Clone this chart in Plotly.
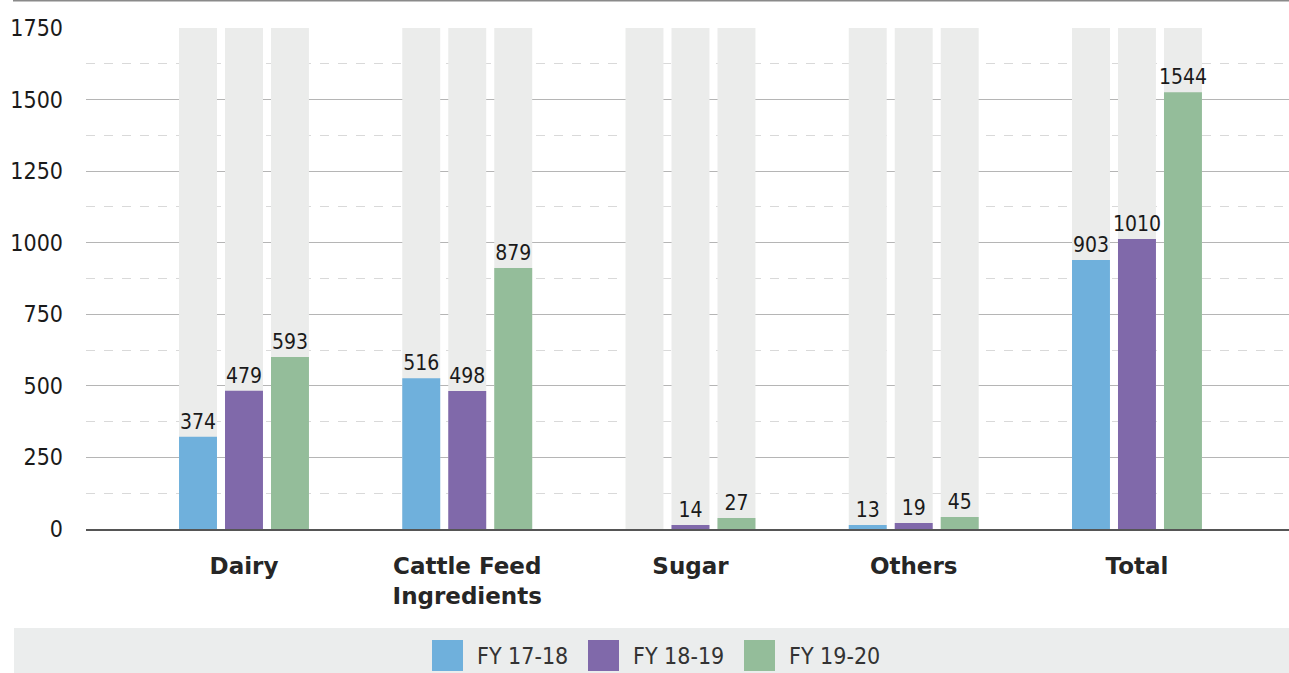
import plotly.graph_objects as go

categories = ["Dairy", "Cattle Feed<br>Ingredients", "Sugar", "Others", "Total"]
series_names = ["FY 17-18", "FY 18-19", "FY 19-20"]
# bar heights as drawn in the picture
values_fy1718 = [322, 527, 0, 14, 940]
values_fy1819 = [483, 482, 14, 21, 1013]
values_fy1920 = [601, 912, 38, 42, 1526]
# data labels as printed in the picture
labels_fy1718 = ["374", "516", "", "13", "903"]
labels_fy1819 = ["479", "498", "14", "19", "1010"]
labels_fy1920 = ["593", "879", "27", "45", "1544"]
background_max = [1750, 1750, 1750, 1750, 1750]
y_ticks = [0, 250, 500, 750, 1000, 1250, 1500, 1750]

colors = ["#6fb0dc", "#8069aa", "#94bd9a"]
bg_color = "#ebeceb"
FONT = "DejaVu Sans Condensed, DejaVu Sans, sans-serif"
BOLD_FONT = "DejaVu Sans, sans-serif"

series_values = [values_fy1718, values_fy1819, values_fy1920]
series_labels = [labels_fy1718, labels_fy1819, labels_fy1920]

W, H = 1289, 673
ML, MR, MT, MB = 86, 0, 28, 144
PW, PH = W - ML - MR, H - MT - MB

bar_w = 0.170
step = 0.206

fig = go.Figure()
for i in range(3):
    fig.add_trace(go.Bar(
        x=categories, y=background_max, width=bar_w,
        offset=(i - 1) * step - bar_w / 2,
        marker=dict(color=bg_color, line=dict(width=0)),
        showlegend=False, hoverinfo="skip"))
for i in range(3):
    fig.add_trace(go.Bar(
        x=categories, y=series_values[i], width=bar_w,
        offset=(i - 1) * step - bar_w / 2,
        name=series_names[i],
        marker=dict(color=colors[i], line=dict(width=0)),
        text=series_labels[i], textposition="outside", constraintext="none",
        cliponaxis=False,
        textfont=dict(family=FONT, size=21, color="#1a1a1a"),
        showlegend=False, hoverinfo="skip"))


def px_x(p):
    return (p - ML) / PW


def px_y(p):
    return (H - MB - p) / PH


shapes = []
annotations = []
# top rule
shapes.append(dict(type="line", xref="paper", yref="paper",
                   x0=px_x(13), x1=1, y0=px_y(0.8), y1=px_y(0.8),
                   line=dict(color="#8a8a8a", width=1.6)))
# legend band
shapes.append(dict(type="rect", xref="paper", yref="paper",
                   x0=px_x(14), x1=1, y0=px_y(628), y1=px_y(673),
                   fillcolor="#ebeded", line=dict(width=0), layer="below"))
legend_x = [432, 588, 744]
for i, name in enumerate(series_names):
    x0 = legend_x[i]
    shapes.append(dict(type="rect", xref="paper", yref="paper",
                       x0=px_x(x0), x1=px_x(x0 + 31), y0=px_y(640), y1=px_y(671),
                       fillcolor=colors[i], line=dict(width=0)))
    annotations.append(dict(xref="paper", yref="paper", x=px_x(x0 + 43), y=px_y(656),
                            text=name, showarrow=False, xanchor="left", yanchor="middle",
                            font=dict(family=FONT, size=23, color="#333333")))

fig.update_layout(
    width=W, height=H,
    margin=dict(l=ML, r=MR, t=MT, b=MB, pad=0),
    paper_bgcolor="white", plot_bgcolor="white",
    barmode="overlay",
    showlegend=False,
    shapes=shapes, annotations=annotations,
    xaxis=dict(type="category", range=[-0.7077, 4.681],
               showgrid=False, showline=True, linecolor="#555555", linewidth=1.5,
               ticks="", ticklabelstandoff=16,
               tickfont=dict(family=BOLD_FONT, size=23, color="#262626", weight="bold"),
               fixedrange=True),
    yaxis=dict(range=[0, 1750], tickvals=y_ticks,
               showgrid=True, gridcolor="#b5b5b5", gridwidth=1,
               zeroline=False, showline=False, ticks="",
               ticklabelstandoff=22,
               tickfont=dict(family=FONT, size=23, color="#1a1a1a"),
               minor=dict(dtick=125, showgrid=True, gridcolor="#d9d9d9", griddash="dash", gridwidth=1),
               fixedrange=True),
)

fig.write_html("out.html", config={"displayModeBar": False},
               post_script="document.body.style.margin='0px';")
